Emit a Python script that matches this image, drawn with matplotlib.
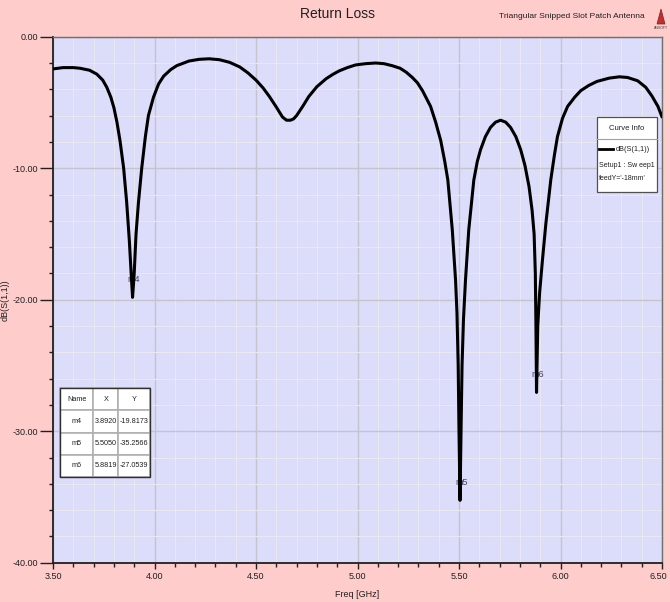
import matplotlib
matplotlib.use('Agg')
import matplotlib.pyplot as plt
from matplotlib.ticker import MultipleLocator, FormatStrFormatter
from matplotlib.patches import Rectangle, Polygon
from matplotlib.lines import Line2D
from matplotlib.transforms import ScaledTranslation

# ---- data ----
freq = [3.50, 3.55, 3.60, 3.633, 3.68, 3.716, 3.745, 3.765, 3.785, 3.80, 3.815, 3.83,
        3.848, 3.863, 3.876, 3.885, 3.892, 3.90, 3.909, 3.921, 3.937, 3.955, 3.97,
        3.995, 4.02, 4.045, 4.08, 4.11, 4.17, 4.22, 4.27, 4.32, 4.37, 4.42, 4.46,
        4.50, 4.535, 4.566, 4.60, 4.63, 4.65, 4.67, 4.685, 4.70, 4.73, 4.76, 4.80,
        4.845, 4.88, 4.91, 4.95, 4.99, 5.04, 5.09, 5.13, 5.17, 5.21, 5.24, 5.27,
        5.295, 5.32, 5.34, 5.36, 5.385, 5.41, 5.43, 5.445, 5.467, 5.483, 5.49,
        5.496, 5.50, 5.505, 5.51, 5.515, 5.522, 5.532, 5.548, 5.573, 5.59, 5.606,
        5.63, 5.655, 5.68, 5.705, 5.73, 5.754, 5.78, 5.804, 5.825, 5.845, 5.86,
        5.87, 5.876, 5.879, 5.8819, 5.888, 5.897, 5.911, 5.928, 5.952, 5.97, 5.985,
        6.01, 6.035, 6.07, 6.10, 6.14, 6.18, 6.24, 6.29, 6.33, 6.38, 6.42, 6.45,
        6.48, 6.50]
s11_db = [-2.45, -2.35, -2.35, -2.4, -2.55, -2.85, -3.3, -3.85, -4.6, -5.4, -6.5, -7.9,
          -10.0, -12.6, -15.5, -18.0, -19.82, -18.0, -15.0, -12.6, -10.0, -7.6, -6.0,
          -4.6, -3.6, -3.0, -2.5, -2.2, -1.85, -1.72, -1.68, -1.75, -1.95, -2.3, -2.75,
          -3.3, -3.9, -4.55, -5.35, -6.1, -6.35, -6.35, -6.25, -6.0, -5.3, -4.55, -3.8,
          -3.2, -2.85, -2.6, -2.35, -2.15, -2.05, -2.0, -2.05, -2.2, -2.4, -2.7, -3.1,
          -3.5, -4.1, -4.7, -5.3, -6.5, -7.9, -9.5, -10.9, -14.7, -18.5, -21.0,
          -25.0, -30.0, -35.26, -30.0, -25.0, -21.5, -18.5, -14.7, -10.9, -9.5, -8.6,
          -7.6, -6.9, -6.5, -6.35, -6.5, -6.9, -7.6, -8.6, -9.8, -11.4, -13.2,
          -15.0, -18.0, -22.0, -27.05, -22.0, -19.5, -17.0, -14.2, -10.9, -9.0, -7.6,
          -6.2, -5.3, -4.6, -4.1, -3.7, -3.4, -3.15, -3.05, -3.1, -3.35, -3.85, -4.5,
          -5.3, -6.1]

marker_names = ["m4", "m5", "m6"]
marker_x = [3.8920, 5.5050, 5.8819]
marker_y = [-19.8173, -35.2566, -27.0539]
table_header = ["Name", "X", "Y"]

xticks = [3.50, 4.00, 4.50, 5.00, 5.50, 6.00, 6.50]
yticks = [0.0, -10.0, -20.0, -30.0, -40.0]

plt.rcParams['font.family'] = ['Liberation Sans', 'DejaVu Sans']

W, H = 670, 602
PINK = '#FFCCCC'
LAV = '#DCDCFB'
TXT = '#202020'

fig = plt.figure(figsize=(W / 100, H / 100), dpi=100, facecolor=PINK)
ax = fig.add_axes([53 / W, 1 - 562.7 / H, 609 / W, 526 / H])
ax.set_facecolor(LAV)


def fx(px):
    return px / W


def fy(py):
    return 1 - py / H


ax.plot(freq, s11_db, color='black', lw=2.2, solid_joinstyle='round',
        solid_capstyle='round', zorder=4)

ax.set_xlim(3.5, 6.5)
ax.set_ylim(-40, 0)
ax.set_xticks(xticks)
ax.set_yticks(yticks)
ax.xaxis.set_minor_locator(MultipleLocator(0.1))
ax.yaxis.set_minor_locator(MultipleLocator(2))
ax.xaxis.set_major_formatter(FormatStrFormatter('%.2f'))
ax.yaxis.set_major_formatter(FormatStrFormatter('%.2f'))
ax.grid(which='major', color='#C4C4CC', lw=1.0, zorder=1)
ax.grid(which='minor', color='#E9E9F2', lw=0.8, zorder=1)
ax.set_axisbelow(True)

ax.tick_params(axis='y', which='major', length=9.5, width=1.0, pad=1,
               labelsize=6.5, color=TXT, labelcolor=TXT)
ax.tick_params(axis='y', which='minor', length=3, width=1.0, color=TXT)
ax.tick_params(axis='x', which='major', length=4, width=1.0, pad=3,
               labelsize=6.5, color=TXT, labelcolor=TXT)
ax.tick_params(axis='x', which='minor', length=3, width=1.0, color=TXT)

fig.canvas.draw()
last = ax.get_xticklabels()[-1]
last.set_transform(last.get_transform() + ScaledTranslation(-4 / 100, 0, fig.dpi_scale_trans))

for s in ['left', 'bottom']:
    ax.spines[s].set_color(TXT)
    ax.spines[s].set_linewidth(1.3)
for s in ['top', 'right']:
    ax.spines[s].set_color('#707070')
    ax.spines[s].set_linewidth(1.0)

ax.set_xlabel('Freq [GHz]', fontsize=6.5, color=TXT)
ax.xaxis.set_label_coords(0.5, -0.052)
ax.set_ylabel('dB(S(1,1))', fontsize=6.5, color=TXT)
ax.yaxis.set_label_coords((10 - 53) / 609, 0.5)

# marker labels
for n, mx, my in zip(marker_names, marker_x, marker_y):
    ax.annotate(n, (mx, my), xytext=(1, 13), textcoords='offset points',
                ha='center', va='center', fontsize=6.5, color='#404060', zorder=3)

# titles
fig.text(fx(338), fy(14), 'Return Loss', ha='center', va='center',
         fontsize=10, color=TXT)
fig.text(fx(645), fy(17), 'Triangular Snipped Slot Patch Antenna', ha='right',
         va='center', fontsize=6, color=TXT)
# small logo
fig.add_artist(Polygon([[fx(657), fy(24)], [fx(665), fy(24)], [fx(661), fy(9)]],
                       closed=True, transform=fig.transFigure,
                       facecolor='#C03030', edgecolor='#802020', lw=0.5))
fig.text(fx(661), fy(28), 'ANSOFT', ha='center', va='center', fontsize=2.5,
         color='#404040')

# marker table
cell_text = [[n, f'{x:.4f}', f'{y:.4f}'] for n, x, y in zip(marker_names, marker_x, marker_y)]
tx0, tx1, ty0, ty1 = 60, 150, 388.3, 477
tb = ax.table(cellText=cell_text, colLabels=table_header, cellLoc='center',
              colWidths=[0.37, 0.278, 0.352],
              bbox=[(tx0 - 53) / 609, (562.7 - ty1) / 526, (tx1 - tx0) / 609,
                    (ty1 - ty0) / 526], zorder=6)
tb.auto_set_font_size(False)
for (r, c), cell in tb.get_celld().items():
    cell.set_facecolor('white')
    cell.set_edgecolor('#B0B0B0')
    cell.set_linewidth(1.2)
    cell.PAD = 0.02
    cell.get_text().set_fontsize(5.2)
    cell.get_text().set_color(TXT)
ax.add_patch(Rectangle(((tx0 - 53) / 609, (562.7 - ty1) / 526), (tx1 - tx0) / 609,
                       (ty1 - ty0) / 526, transform=ax.transAxes, fill=False,
                       edgecolor='#303030', lw=1.0, zorder=7))

# curve info box
lx0, lx1, ly0, ly1 = 597, 656.7, 116.7, 191.7
fig.add_artist(Rectangle((fx(lx0), fy(ly1)), (lx1 - lx0) / W, (ly1 - ly0) / H,
                         transform=fig.transFigure, facecolor='white',
                         edgecolor='#505050', lw=0.9, zorder=10))
fig.add_artist(Line2D([fx(lx0), fx(lx1)], [fy(139.3), fy(139.3)],
                      transform=fig.transFigure, color='#A0A0A0', lw=0.8, zorder=11))
fig.text(fx(627), fy(128), 'Curve Info', ha='center', va='center', fontsize=5.5,
         color=TXT, zorder=12)
fig.add_artist(Line2D([fx(599), fx(613)], [fy(149.3), fy(149.3)],
                      transform=fig.transFigure, color='black', lw=2.0, zorder=11))
fig.text(fx(616), fy(149.3), 'dB(S(1,1))', ha='left', va='center', fontsize=5.3,
         color=TXT, zorder=12)
fig.text(fx(599), fy(165), 'Setup1 : Sw eep1', ha='left', va='center', fontsize=5.0,
         color=TXT, zorder=12)
fig.text(fx(599), fy(178), "feedY='-18mm'", ha='left', va='center', fontsize=5.0,
         color=TXT, zorder=12)

fig.savefig('out.png', dpi=100, facecolor=PINK)
